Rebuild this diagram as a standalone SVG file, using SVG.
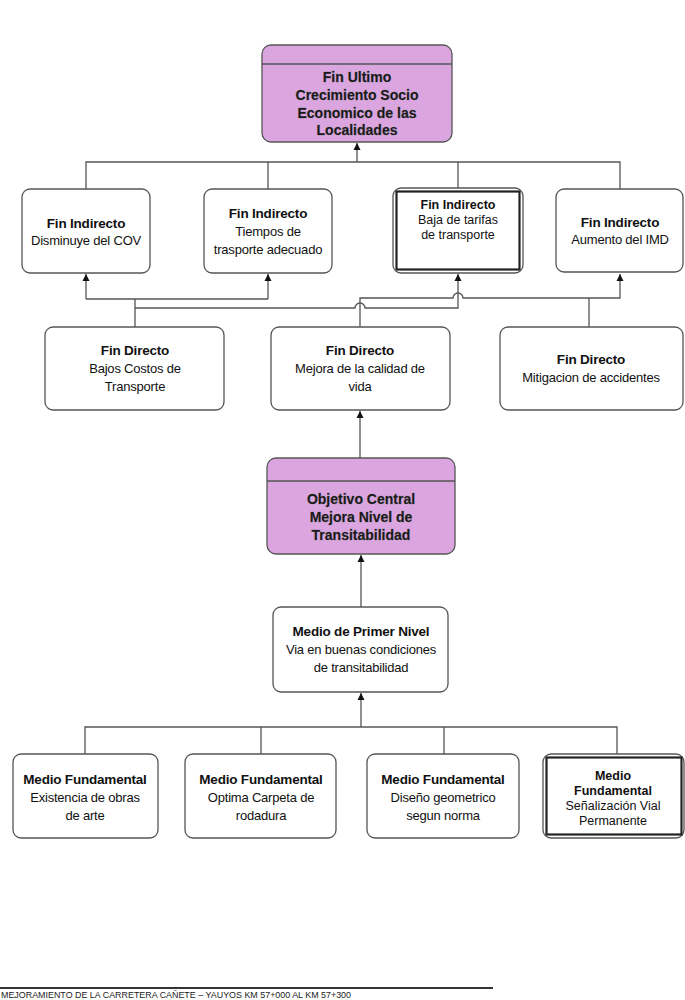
<svg xmlns="http://www.w3.org/2000/svg" width="685" height="1000" viewBox="0 0 685 1000">
<style>
.box{fill:#fff;stroke:#555;stroke-width:1.3}
.pbox{fill:#dba6e0;stroke:#555;stroke-width:1.3}
.inner{fill:none;stroke:#222;stroke-width:2.2}
.ln{fill:none;stroke:#555;stroke-width:1.3}
.arr{fill:none;stroke:#555;stroke-width:1.3;marker-end:url(#ah)}
text{font-family:"Liberation Sans",Arial,sans-serif;fill:#111;text-anchor:middle}
.b{font-size:13.5px;font-weight:bold;letter-spacing:-0.2px}
.r{font-size:13px;letter-spacing:-0.2px}
.p{font-size:14px;font-weight:bold;fill:#1a1a1a;stroke:#777;stroke-width:0.4;paint-order:stroke}
.ab{font-size:12.5px;font-weight:bold}
.ar{font-size:12.5px}
.foot{font-size:9.5px;text-anchor:start;fill:#222}
</style>
<defs>
<marker id="ah" markerUnits="userSpaceOnUse" markerWidth="8" markerHeight="8" refX="7" refY="4" orient="auto">
<path d="M0,0.5 L7,4 L0,7.5 z" fill="#111"/>
</marker>
</defs>
<rect width="685" height="1000" fill="#fff"/>

<g id="connectors">
<path class="arr" d="M357,162 V143"/>
<path class="ln" d="M86,189 V162 H620 V189 M268,162 V189 M458,162 V189"/>
<path class="ln" d="M135,327 V299 M86,299 H268"/>
<path class="arr" d="M86,299 V274"/>
<path class="arr" d="M268,299 V274"/>
<path class="arr" d="M135,308 H355 A5,5 0 0 1 365,308 H458 V274"/>
<path class="arr" d="M360,327 V298 H453 A5,5 0 0 1 463,298 H620 V274"/>
<path class="ln" d="M589,327 V298"/>
<path class="arr" d="M360,458 V411"/>
<path class="arr" d="M361,607 V555"/>
<path class="arr" d="M361,727 V693"/>
<path class="ln" d="M85,754 V727 H617 V754 M261,727 V754 M444,727 V754"/>
</g>

<g id="fin-ultimo">
<rect class="pbox" x="262" y="45" width="190" height="97" rx="9"/>
<line class="ln" x1="262" y1="64" x2="452" y2="64"/>
<text class="p" x="357" y="82">Fin Ultimo</text>
<text class="p" x="357" y="100">Crecimiento Socio</text>
<text class="p" x="357" y="118">Economico de las</text>
<text class="p" x="357" y="135">Localidades</text>
</g>

<g id="fin-indirecto-1">
<rect class="box" x="22" y="189" width="128" height="84" rx="8"/>
<text class="b" x="86" y="228">Fin Indirecto</text>
<text class="r" x="86" y="245">Disminuye del COV</text>
</g>
<g id="fin-indirecto-2">
<rect class="box" x="204" y="189" width="128" height="84" rx="8"/>
<text class="b" x="268" y="218">Fin Indirecto</text>
<text class="r" x="268" y="236">Tiempos de</text>
<text class="r" x="268" y="254">trasporte adecuado</text>
</g>
<g id="fin-indirecto-3">
<rect class="box" x="393" y="188" width="130" height="85" rx="8"/>
<rect class="inner" x="396.5" y="191.5" width="123" height="78"/>
<text class="ab" x="458" y="208.5">Fin Indirecto</text>
<text class="ar" x="458" y="223.5">Baja de tarifas</text>
<text class="ar" x="458" y="238.5">de transporte</text>
</g>
<g id="fin-indirecto-4">
<rect class="box" x="556" y="189" width="127" height="83" rx="8"/>
<text class="b" x="620" y="227">Fin Indirecto</text>
<text class="r" x="620" y="244">Aumento del IMD</text>
</g>

<g id="fin-directo-1">
<rect class="box" x="45" y="327" width="179" height="83" rx="8"/>
<text class="b" x="135" y="355">Fin Directo</text>
<text class="r" x="135" y="373">Bajos Costos de</text>
<text class="r" x="135" y="391">Transporte</text>
</g>
<g id="fin-directo-2">
<rect class="box" x="271" y="327" width="179" height="83" rx="8"/>
<text class="b" x="360" y="355">Fin Directo</text>
<text class="r" x="360" y="373">Mejora de la calidad de</text>
<text class="r" x="360" y="391">vida</text>
</g>
<g id="fin-directo-3">
<rect class="box" x="500" y="327" width="183" height="83" rx="8"/>
<text class="b" x="591" y="364">Fin Directo</text>
<text class="r" x="591" y="382">Mitigacion de accidentes</text>
</g>

<g id="objetivo-central">
<rect class="pbox" x="267" y="458" width="188" height="96" rx="9"/>
<line class="ln" x1="267" y1="481" x2="455" y2="481"/>
<text class="p" x="361" y="504">Objetivo Central</text>
<text class="p" x="361" y="522">Mejora Nivel de</text>
<text class="p" x="361" y="540">Transitabilidad</text>
</g>

<g id="medio-primer-nivel">
<rect class="box" x="273" y="607" width="175" height="85" rx="8"/>
<text class="b" x="361" y="636">Medio de Primer Nivel</text>
<text class="r" x="361" y="654">Via en buenas condiciones</text>
<text class="r" x="361" y="672">de transitabilidad</text>
</g>

<g id="medio-fundamental-1">
<rect class="box" x="13" y="754" width="145" height="84" rx="8"/>
<text class="b" x="85" y="784">Medio Fundamental</text>
<text class="r" x="85" y="802">Existencia de obras</text>
<text class="r" x="85" y="820">de arte</text>
</g>
<g id="medio-fundamental-2">
<rect class="box" x="185" y="754" width="151" height="84" rx="8"/>
<text class="b" x="261" y="784">Medio Fundamental</text>
<text class="r" x="261" y="802">Optima Carpeta de</text>
<text class="r" x="261" y="820">rodadura</text>
</g>
<g id="medio-fundamental-3">
<rect class="box" x="367" y="754" width="152" height="84" rx="8"/>
<text class="b" x="443" y="784">Medio Fundamental</text>
<text class="r" x="443" y="802">Diseño geometrico</text>
<text class="r" x="443" y="820">segun norma</text>
</g>
<g id="medio-fundamental-4">
<rect class="box" x="543" y="754" width="141" height="84" rx="8"/>
<rect class="inner" x="546.5" y="757.5" width="135" height="77"/>
<text class="ab" x="613" y="780">Medio</text>
<text class="ab" x="613" y="795">Fundamental</text>
<text class="ar" x="613" y="810">Señalización Vial</text>
<text class="ar" x="613" y="825">Permanente</text>
</g>

<g id="footer">
<line x1="0" y1="988" x2="493" y2="988" stroke="#333" stroke-width="2"/>
<text class="foot" x="1" y="998" textLength="350" lengthAdjust="spacingAndGlyphs">MEJORAMIENTO DE LA CARRETERA CAÑETE – YAUYOS KM 57+000 AL KM 57+300</text>
</g>
</svg>
